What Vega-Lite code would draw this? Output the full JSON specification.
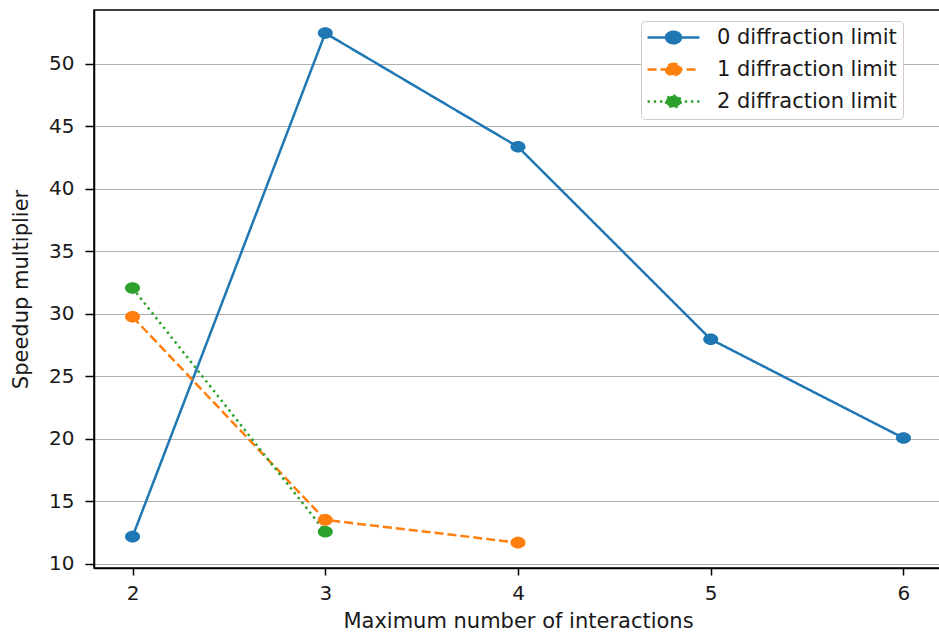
{
  "$schema": "https://vega.github.io/schema/vega-lite/v6.json",
  "autosize": "none",
  "width": 848,
  "height": 558,
  "padding": {"left": 94, "top": 10, "right": 0, "bottom": 65},
  "background": "white",
  "config": {
    "font": "DejaVu Sans",
    "view": {"stroke": "black", "strokeWidth": 1.5},
    "axis": {
      "labelFont": "DejaVu Sans",
      "titleFont": "DejaVu Sans",
      "labelFontSize": 20,
      "titleFontSize": 21,
      "labelColor": "#1a1a1a",
      "titleColor": "#1a1a1a",
      "titleFontWeight": "normal",
      "domainColor": "black",
      "domainWidth": 1.5,
      "tickColor": "black",
      "tickWidth": 1.5
    }
  },
  "data": {
    "values": [
      {"x": 2, "y": 12.16, "series": "0 diffraction limit"},
      {"x": 3, "y": 52.45, "series": "0 diffraction limit"},
      {"x": 4, "y": 43.35, "series": "0 diffraction limit"},
      {"x": 5, "y": 27.95, "series": "0 diffraction limit"},
      {"x": 6, "y": 20.05, "series": "0 diffraction limit"},
      {"x": 2, "y": 29.75, "series": "1 diffraction limit"},
      {"x": 3, "y": 13.5, "series": "1 diffraction limit"},
      {"x": 4, "y": 11.68, "series": "1 diffraction limit"},
      {"x": 2, "y": 32.05, "series": "2 diffraction limit"},
      {"x": 3, "y": 12.55, "series": "2 diffraction limit"}
    ]
  },
  "encoding": {
    "x": {
      "field": "x", "type": "quantitative",
      "scale": {"domain": [1.8, 6.2], "nice": false, "zero": false},
      "axis": {"values": [2, 3, 4, 5, 6], "grid": false, "title": "Maximum number of interactions", "tickSize": 7, "labelPadding": 8, "titleY": 59, "titleBaseline": "alphabetic"}
    },
    "y": {
      "field": "y", "type": "quantitative",
      "scale": {"domain": [9.65, 54.3], "nice": false, "zero": false},
      "axis": {"values": [10, 15, 20, 25, 30, 35, 40, 45, 50], "grid": true, "gridColor": "#b0b0b0", "gridWidth": 1.2, "title": "Speedup multiplier", "tickSize": 9, "labelPadding": 11, "titleX": -67, "titleBaseline": "alphabetic"}
    },
    "color": {
      "field": "series", "type": "nominal",
      "scale": {"domain": ["0 diffraction limit", "1 diffraction limit", "2 diffraction limit"], "range": ["#1f77b4", "#ff7f0e", "#2ca02c"]}
    }
  },
  "layer": [
    {
      "mark": {"type": "line", "strokeWidth": 2.5},
      "encoding": {
        "strokeDash": {
          "field": "series", "type": "nominal",
          "scale": {"domain": ["0 diffraction limit", "1 diffraction limit", "2 diffraction limit"], "range": [[1, 0], [9, 4], [2.4, 3.8]]}
        },
        "color": {
          "field": "series", "type": "nominal",
          "legend": {
            "title": null,
            "orient": "none",
            "legendX": 547,
            "legendY": 11,
            "padding": 6,
            "strokeColor": "#cccccc",
            "cornerRadius": 4,
            "fillColor": "white",
            "labelFont": "DejaVu Sans",
            "labelFontSize": 21,
            "labelColor": "#1a1a1a",
            "labelLimit": 400,
            "symbolType": "M-3.71,0L3.71,0M1.07,0A1.07,0.83,0,1,1,-1.07,0A1.07,0.83,0,1,1,1.07,0Z",
            "symbolSize": 196,
            "symbolStrokeWidth": 2.4,
            "symbolOffset": 16,
            "labelOffset": 33,
            "rowPadding": 9,
            "offset": 0,
            "encode": {"symbols": {"update": {"fill": {"scale": "color", "field": "value"}, "opacity": {"value": 1}}}}
          }
        }
      }
    },
    {
      "mark": {"type": "point", "filled": true, "size": 225, "opacity": 1, "shape": "M1,0A1,0.77,0,1,1,-1,0A1,0.77,0,1,1,1,0Z"},
      "encoding": {}
    }
  ]
}
